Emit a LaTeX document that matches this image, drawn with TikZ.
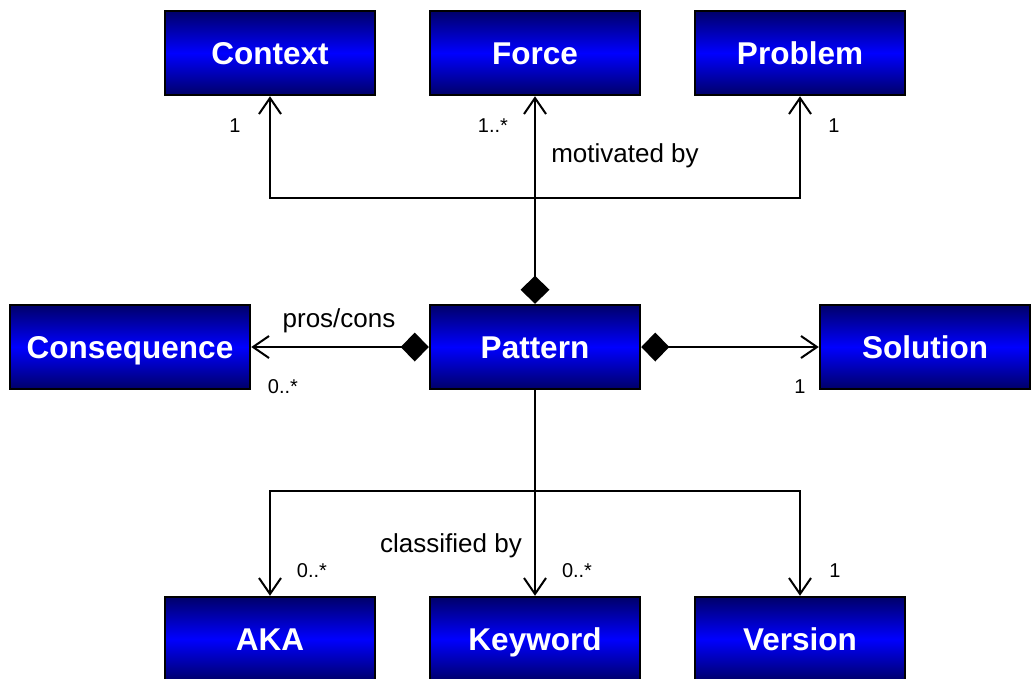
\documentclass[tikz,border=0pt]{standalone}
\usepackage{fontspec}
\setmainfont{Liberation Sans}
\usetikzlibrary{arrows.meta}
\definecolor{navy}{RGB}{0,0,105}
\definecolor{brightblue}{RGB}{0,0,255}
\tikzset{
  cls/.style={draw=black, line width=2.5pt, minimum width=210pt, minimum height=84pt,
    inner sep=0pt, text height=22pt, text depth=0pt,
    top color=navy, bottom color=navy, middle color=brightblue,
    text=white, font=\fontsize{31.5}{36}\selectfont\bfseries},
  link/.style={draw=black, line width=2pt},
  nav/.style={link, -{Straight Barb[length=16pt,width=22pt,line width=2pt]}},
  comp/.style={link, {Diamond[length=28pt,width=29pt,line width=0pt,fill=black]}-{Straight Barb[length=16pt,width=22pt,line width=2pt]}},
  mult/.style={font=\fontsize{20}{24}\selectfont, inner sep=0pt},
  role/.style={font=\fontsize{26}{30}\selectfont, inner sep=0pt, anchor=base},
}
\begin{document}
\begin{tikzpicture}[x=1pt,y=-1pt]
\useasboundingbox (0,0) rectangle (1032,678);
\begin{scope}
\clip (0,0) rectangle (1032,678);
% classes
\node[cls] (Context)     at (270,53)  {Context};
\node[cls] (Force)       at (535,53)  {Force};
\node[cls] (Problem)     at (800,53)  {Problem};
\node[cls, minimum width=240pt] (Consequence) at (130,347) {Consequence};
\node[cls] (Pattern)     at (535,347) {Pattern};
\node[cls] (Solution)    at (925,347) {Solution};
\node[cls] (AKA)         at (270,639) {AKA};
\node[cls] (Keyword)     at (535,639) {Keyword};
\node[cls] (Version)     at (800,639) {Version};
\end{scope}

% junction points of the shared branches
\coordinate (jtop) at (535,198);
\coordinate (jbot) at (535,491);

% motivated by
\draw[comp] (Pattern.north) -- (Force.south);
\draw[nav] (jtop) -| (Context.south);
\draw[nav] (jtop) -| (Problem.south);

% pros/cons and solution
\draw[comp] (Pattern.west) -- (Consequence.east);
\draw[comp] (Pattern.east) -- (Solution.west);

% classified by
\draw[nav] (Pattern.south) -- (Keyword.north);
\draw[nav] (jbot) -| (AKA.north);
\draw[nav] (jbot) -| (Version.north);

% labels
\node[mult] (mContext) at (235,126) {1};
\node[mult] (mForce)   at (493,126) {1..*};
\node[mult] (mProblem) at (834,126) {1};
\node[role] (lMotiv)   at (625,162) {motivated by};
\node[role] (lPros)    at (339,327) {pros/cons};
\node[mult] (mCons)    at (283,387) {0..*};
\node[mult] (mSol)     at (800,387) {1};
\node[role] (lClass)   at (451,552) {classified by};
\node[mult] (mAKA)     at (312,571) {0..*};
\node[mult] (mKey)     at (577,571) {0..*};
\node[mult] (mVer)     at (835,571) {1};
\end{tikzpicture}
\end{document}
